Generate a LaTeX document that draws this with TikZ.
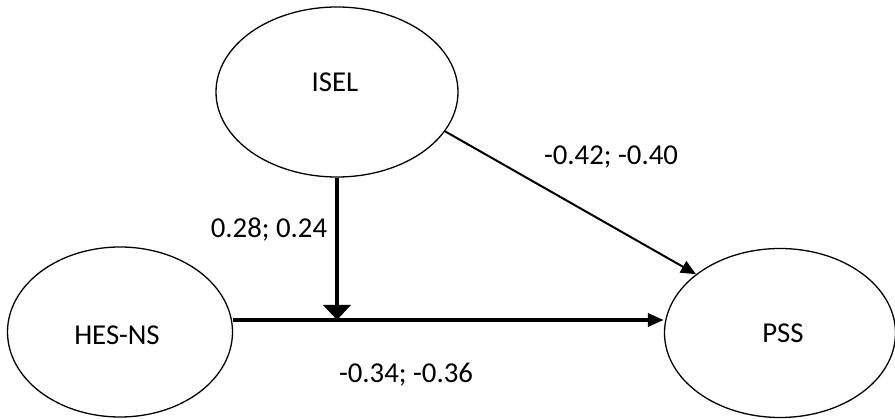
\documentclass[tikz,border=0pt]{standalone}
\usepackage{fontspec}
\setmainfont{Carlito}
\usetikzlibrary{shapes.geometric,arrows.meta}
\begin{document}
\begin{tikzpicture}[x=1pt,y=-1pt,
  ell/.style={draw,ellipse,line width=1.3pt,inner sep=0pt,font=\fontsize{28.8}{34}\selectfont},
  lbl/.style={font=\fontsize{28.8}{34}\selectfont,inner sep=0pt},
  thinarr/.style={line width=2pt,-{Triangle[length=15pt,width=13pt]}},
  thickarr/.style={line width=4pt,-{Triangle[length=15pt,width=27pt]}},
  medarr/.style={line width=3.5pt,-{Triangle[length=16pt,width=13pt]}}]
\useasboundingbox (0,0) rectangle (895,419);
\node[ell,minimum width=242pt,minimum height=170pt] (isel) at (337,92) {};
\node[lbl] (iselt) at (335,82) {ISEL};
\node[ell,minimum width=225pt,minimum height=170pt] (hes) at (120,332) {};
\node[lbl] (hest) at (117,335) {HES-NS};
\node[ell,minimum width=231pt,minimum height=169pt] (pss) at (780,333) {};
\node[lbl] (psst) at (783,333) {PSS};
\coordinate (m) at (337,320);
\draw[medarr] (m -| hes.east) -- (m -| pss.west);
\draw[thickarr] (isel.south) -- (m);
\draw[thinarr] (isel.-20) -- (pss.145);
\node[lbl] (l1) at (611,157) {-0.42; -0.40};
\node[lbl] (l2) at (269,230) {0.28; 0.24};
\node[lbl] (l3) at (406,375) {-0.34; -0.36};
\end{tikzpicture}
\end{document}
